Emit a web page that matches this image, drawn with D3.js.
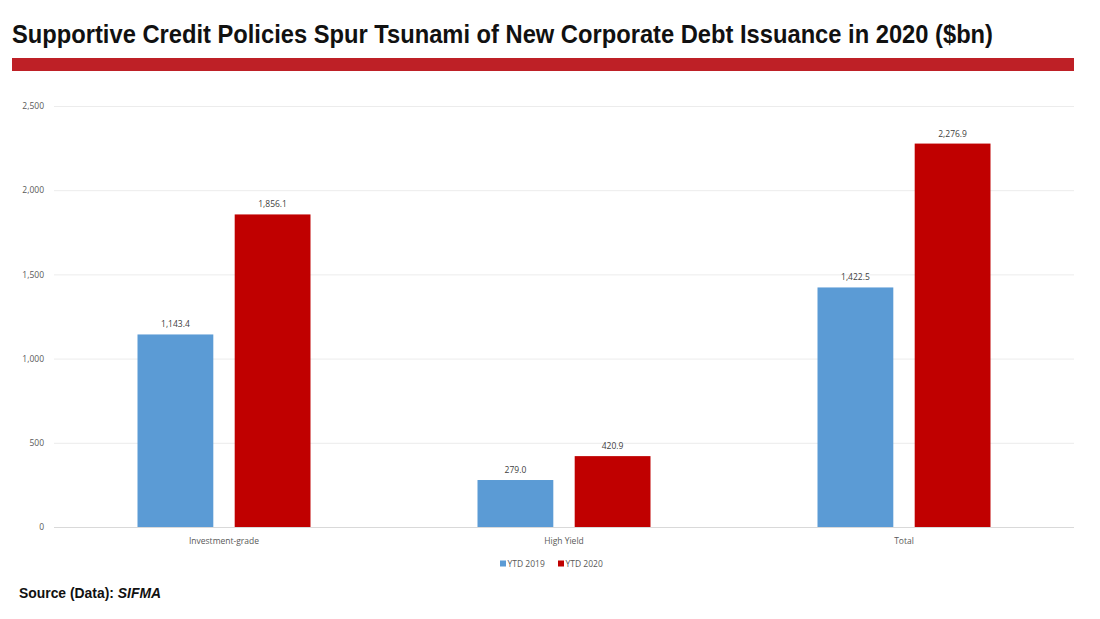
<!DOCTYPE html>
<html><head><meta charset="utf-8">
<script src="https://cdn.jsdelivr.net/npm/d3@7"></script>
<style>body{margin:0;background:#fff}svg{display:block}</style>
</head><body>
<svg id="c" width="1100" height="619"></svg>
<script>
const categories = ["Investment-grade", "High Yield", "Total"];
const seriesNames = ["YTD 2019", "YTD 2020"];
const ytd2019 = [1143.4, 279.0, 1422.5];
const ytd2020 = [1856.1, 420.9, 2276.9];
const yTicks = [0, 500, 1000, 1500, 2000, 2500];
const colors = ["#5B9BD5", "#C00000"];

(function () {
const svg = d3.select("#c");
const pLeft = 54, pRight = 1074, pTop = 106, pBottom = 527;
const font = "'Liberation Sans Narrow','Liberation Sans',Arial,sans-serif";

// title
svg.append("text").attr("x", 12).attr("y", 43)
  .attr("font-family", font).attr("font-weight", "bold").attr("font-size", 25)
  .attr("fill", "#111").attr("textLength", 981).attr("lengthAdjust", "spacingAndGlyphs")
  .text("Supportive Credit Policies Spur Tsunami of New Corporate Debt Issuance in 2020 ($bn)");
svg.append("rect").attr("x", 12).attr("y", 58).attr("width", 1062).attr("height", 13).attr("fill", "#BE2026");

const x = d3.scaleBand().domain(categories).range([pLeft, pRight]).paddingInner(0).paddingOuter(0);
const xs = d3.scaleBand().domain(seriesNames).range([-86.5, 86.5]).paddingInner(0.22);
const y = d3.scaleLinear().domain([0, 2500]).range([pBottom, pTop]);

// grid
svg.append("g").selectAll("line").data(yTicks).join("line")
  .attr("x1", pLeft).attr("x2", pRight)
  .attr("y1", d => y(d) + 0.5).attr("y2", d => y(d) + 0.5)
  .attr("stroke", d => d === 0 ? "#d9d9d9" : "#ececec").attr("stroke-width", 1);

// y axis labels
const yAxis = d3.axisLeft(y).tickValues(yTicks).tickFormat(d3.format(",")).tickSize(0).tickPadding(0);
const ya = svg.append("g").attr("transform", "translate(44,0)").call(yAxis);
ya.select(".domain").remove();
ya.selectAll("text").attr("font-family", "'Open Sans',sans-serif").attr("font-size", 8.5).attr("fill", "#595959");

// x axis labels
const xAxis = d3.axisBottom(x).tickSize(0).tickPadding(0);
const xa = svg.append("g").attr("transform", "translate(0,538)").call(xAxis);
xa.select(".domain").remove();
xa.selectAll("text").attr("font-family", "'Open Sans',sans-serif").attr("font-size", 8.5).attr("fill", "#595959");

const data = categories.map((c, i) => ({c, vals: [ytd2019[i], ytd2020[i]]}));
const grp = svg.append("g").selectAll("g").data(data).join("g")
  .attr("transform", d => `translate(${x(d.c) + x.bandwidth() / 2},0)`);
const items = d => d.vals.map((v, k) => ({s: seriesNames[k], v, k}));
grp.selectAll("rect").data(items).join("rect")
  .attr("x", d => xs(d.s)).attr("width", xs.bandwidth())
  .attr("y", d => y(d.v)).attr("height", d => y(0) - y(d.v))
  .attr("fill", d => colors[d.k]);
grp.selectAll("text").data(items).join("text")
  .attr("x", d => xs(d.s) + xs.bandwidth() / 2).attr("y", d => y(d.v) - 7)
  .attr("text-anchor", "middle").attr("font-family", "'Open Sans',sans-serif")
  .attr("font-size", 8.5).attr("fill", "#404040")
  .text(d => d3.format(",.1f")(d.v));

// legend
const lg = svg.append("g").attr("transform", "translate(500,564)");
const lx = [0, 58];
seriesNames.forEach((s, k) => {
  lg.append("rect").attr("x", lx[k]).attr("y", -3.5).attr("width", 6).attr("height", 6).attr("fill", colors[k]);
  lg.append("text").attr("x", lx[k] + 7.5).attr("y", 3).attr("font-family", "'Open Sans',sans-serif")
    .attr("font-size", 8.5).attr("fill", "#595959").text(s);
});

// source
const src = svg.append("text").attr("x", 19).attr("y", 598)
  .attr("font-family", "'Liberation Sans Narrow','Liberation Sans',sans-serif").attr("font-weight", "bold")
  .attr("font-size", 13.9).attr("fill", "#111");
src.append("tspan").text("Source (Data): ");
src.append("tspan").attr("font-style", "italic").text("SIFMA");
})();
</script>
</body></html>
